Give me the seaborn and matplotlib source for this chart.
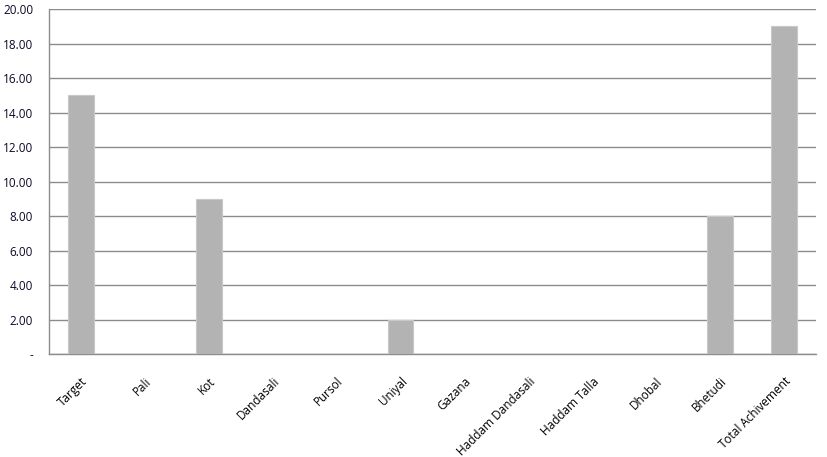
import matplotlib
matplotlib.use("Agg")
import matplotlib.pyplot as plt
import matplotlib.ticker as mticker
import matplotlib.transforms as mtransforms
import pandas as pd
import seaborn as sns

CATEGORIES = ["Target", "Pali", "Kot", "Dandasali", "Pursol", "Uniyal", "Gazana",
              "Haddam Dandasali", "Haddam Talla", "Dhobal", "Bhetudi", "Total Achivement"]
VALUES = [15, 0, 9, 0, 0, 2, 0, 0, 0, 0, 8, 19]
Y_TICKS = [0, 2, 4, 6, 8, 10, 12, 14, 16, 18, 20]

sns.set_style("white")
plt.rcParams["font.family"] = ["Open Sans", "DejaVu Sans"]

df = pd.DataFrame({"Category": CATEGORIES, "Value": VALUES})

fig = plt.figure(figsize=(8.27, 4.57), dpi=100)
ax = fig.add_axes([0.0593, 0.2254, 0.9274, 0.7546])
sns.barplot(data=df, x="Category", y="Value", color="#b3b3b3", saturation=1,
            width=0.4, edgecolor="#c8c8c8", linewidth=0.8, ax=ax, zorder=3)

ax.set_xlim(-0.5, len(CATEGORIES) - 0.5)
ax.set_ylim(0, 20)
ax.set_yticks(Y_TICKS)
ax.yaxis.set_major_formatter(mticker.FuncFormatter(lambda v, p: "-" if v == 0 else f"{v:.2f}"))
ax.grid(axis="y", color="#8c8c8c", linewidth=1, zorder=0)
ax.set_axisbelow(True)

for side in ["top", "right"]:
    ax.spines[side].set_visible(False)
for side in ["left", "bottom"]:
    ax.spines[side].set_color("#8c8c8c")
    ax.spines[side].set_linewidth(1)

# category ticks between bars, like Excel
ax.set_xticks([i - 0.5 for i in range(len(CATEGORIES) + 1)], minor=False)
ax.set_xticklabels([""] * (len(CATEGORIES) + 1))
ax.set_xticks(range(len(CATEGORIES)), minor=True)
ax.set_xticklabels(CATEGORIES, minor=True, rotation=45, ha="right",
                   rotation_mode="anchor", fontsize=8.5, color="#000000")
shift = mtransforms.ScaledTranslation(-4 / 100, 0, fig.dpi_scale_trans)
for lbl in ax.get_xticklabels(minor=True):
    lbl.set_transform(lbl.get_transform() + shift)
ax.tick_params(axis="x", which="major", length=3, color="#8c8c8c", direction="out")
ax.tick_params(axis="x", which="minor", length=0, pad=15)
ax.tick_params(axis="y", length=3, color="#8c8c8c", labelsize=8.5,
               labelcolor="#0a0a28", pad=8.5)
ax.set_xlabel("")
ax.set_ylabel("")

fig.savefig("out.png", dpi=100)
plt.close(fig)
